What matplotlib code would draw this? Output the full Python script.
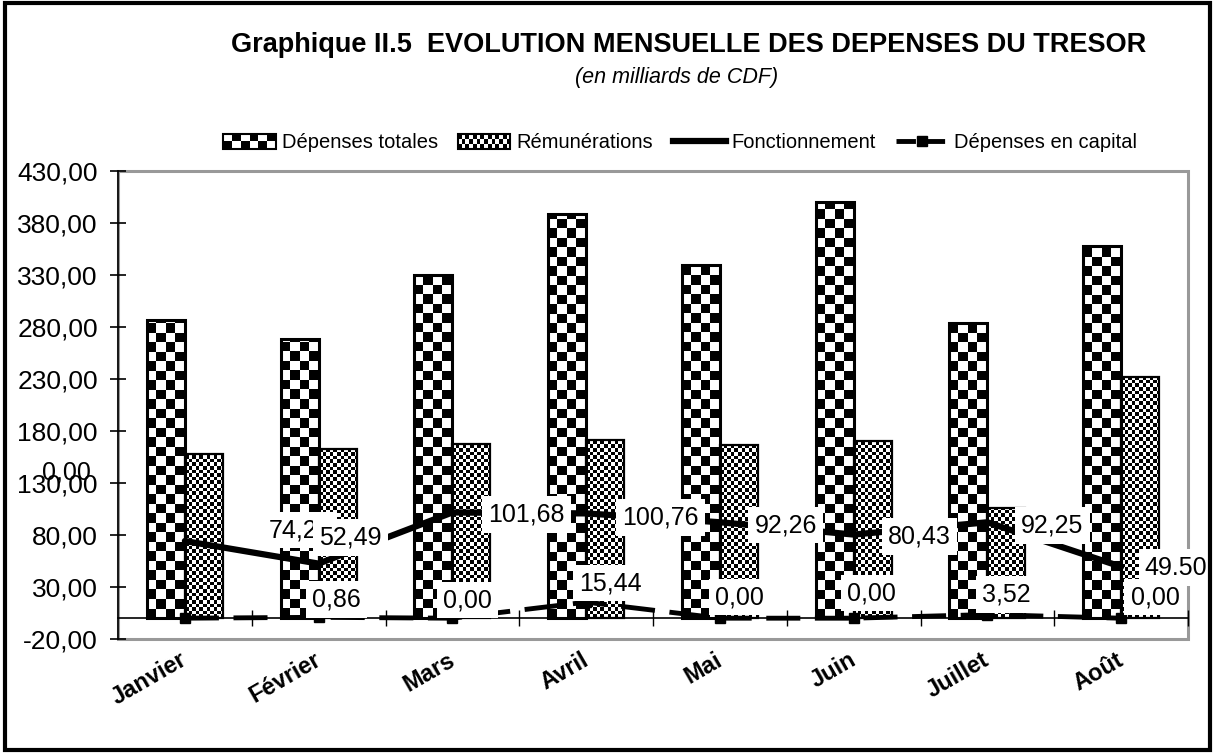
import numpy as np
import matplotlib
matplotlib.use('Agg')
import matplotlib.pyplot as plt
from matplotlib.patches import Rectangle
from matplotlib.lines import Line2D
from matplotlib.legend_handler import HandlerBase
from matplotlib.transforms import blended_transform_factory

plt.rcParams['font.family'] = ['Liberation Sans', 'DejaVu Sans']

mois = ['Janvier', 'Février', 'Mars', 'Avril', 'Mai', 'Juin', 'Juillet', 'Août']
totales = [287.2, 268.6, 330.1, 388.4, 339.7, 399.9, 283.4, 357.6]
remunerations = [157.8, 162.3, 167.4, 171.3, 167.0, 170.6, 106.4, 232.0]
fonctionnement = [74.21, 52.49, 101.68, 100.76, 92.26, 80.43, 92.25, 49.50]
capital = [0.00, 0.86, 0.00, 15.44, 0.00, 0.00, 3.52, 0.00]
fonct_txt = ['74,21', '52,49', '101,68', '100,76', '92,26', '80,43', '92,25', '49.50']
capital_txt = ['0,00', '0,86', '0,00', '15,44', '0,00', '0,00', '3,52', '0,00']
y_ticks = np.arange(-20, 431, 50)

# label offsets in pixels (moved by hand in the original)
fonct_off = [(115, 11), (32, 26), (74, -2), (74, -4), (66, -3), (66, -2), (65, -3), (55, -1)]
cap_off = [(-118, 146), (18, 18), (15, 18), (24, 19), (20, 21), (18, 25), (19, 20), (34, 21)]

W, H = 1215, 753
fig = plt.figure(figsize=(W / 100, H / 100), dpi=100)
ax_l, ax_r, ax_t, ax_b = 118, 1188, 171, 639
ax = fig.add_axes([ax_l / W, 1 - ax_b / H, (ax_r - ax_l) / W, (ax_b - ax_t) / H])
ax.set_xlim(-0.5, 7.5)
ax.set_ylim(-20, 430)
px_x = (ax_r - ax_l) / 8.0
px_y = (ax_b - ax_t) / 450.0

x = np.arange(len(mois))
bw = 0.284
b1 = ax.bar(x - bw, totales, bw, align='edge', fill=False, edgecolor='black', linewidth=2.2, zorder=3)
b2 = ax.bar(x, remunerations, bw, align='edge', fill=False, edgecolor='black', linewidth=1.6, zorder=3)


def checker(bars, sq):
    for b in bars:
        x0, y0, w, h = b.get_x(), b.get_y(), b.get_width(), b.get_height()
        nx = int(np.ceil(w * px_x / sq)) + 1
        ny = int(np.ceil(h * px_y / sq)) + 1
        arr = (np.add.outer(np.arange(ny), np.arange(nx)) % 2).astype(float)
        im = ax.imshow(arr, cmap='gray', vmin=0, vmax=1, interpolation='nearest',
                       origin='lower', aspect='auto', zorder=2,
                       extent=[x0, x0 + nx * sq / px_x, y0, y0 + ny * sq / px_y])
        im.set_clip_path(b)


checker(b1, 9.5)
checker(b2, 3.6)
ax.set_xlim(-0.5, 7.5)
ax.set_ylim(-20, 430)

ax.plot(x, fonctionnement, color='black', lw=4.5, solid_capstyle='round', zorder=4)
ax.plot(x, capital, color='black', lw=3.5, linestyle=(0, (7, 3)), marker='s',
        markersize=7, zorder=4)

bbox = dict(boxstyle='square,pad=0.25', fc='white', ec='none')
for i in range(len(mois)):
    ax.annotate(fonct_txt[i], (x[i], fonctionnement[i]), xytext=fonct_off[i],
                textcoords='offset pixels', ha='center', va='center', fontsize=18,
                bbox=bbox, zorder=5, annotation_clip=False)
for i in range(len(mois)):
    # the January label sits over the y tick labels, without a box
    ax.annotate(capital_txt[i], (x[i], capital[i]), xytext=cap_off[i],
                textcoords='offset pixels', ha='center', va='center', fontsize=18,
                bbox=None if i == 0 else bbox, zorder=5, annotation_clip=False)

# axes look
for s in ['top', 'right']:
    ax.spines[s].set_visible(False)
ax.spines['left'].set_linewidth(1.2)
ax.spines['bottom'].set_position(('data', 0))
ax.spines['bottom'].set_linewidth(1.2)
ax.add_patch(Rectangle((0, 0), 1, 1, transform=ax.transAxes, fill=False,
                       ec='#999999', lw=2.2, clip_on=False, zorder=0.5))
ax.set_yticks(y_ticks)
ax.set_yticklabels([f'{v:.2f}'.replace('.', ',') for v in y_ticks], fontsize=19)
ax.tick_params(axis='y', direction='inout', length=11, width=1.2, pad=9)
ax.set_xticks(np.arange(0.5, 8, 1))
ax.set_xticklabels([])
ax.tick_params(axis='x', direction='inout', length=11, width=1)

tr = blended_transform_factory(ax.transData, ax.transAxes)
for i, m in enumerate(mois):
    ax.text(x[i] - 0.04, -0.02, m, transform=tr, rotation=30, rotation_mode='anchor',
            ha='right', va='top', fontsize=17, fontweight='bold')


class CheckerHandler(HandlerBase):
    def __init__(self, ncols, nrows):
        super().__init__()
        self.ncols, self.nrows = ncols, nrows

    def create_artists(self, legend, orig_handle, xdescent, ydescent, width, height, fontsize, trans):
        x0, y0 = -xdescent, -ydescent
        arts = [Rectangle((x0, y0), width, height, fc='white', ec='none', transform=trans)]
        cw, rh = width / self.ncols, height / self.nrows
        for i in range(self.nrows):
            for j in range(self.ncols):
                if (i + j) % 2 == 0:
                    arts.append(Rectangle((x0 + j * cw, y0 + i * rh), cw, rh, fc='black',
                                          ec='none', transform=trans))
        arts.append(Rectangle((x0, y0), width, height, fill=False, ec='black', lw=1.5, transform=trans))
        return arts


h1 = Rectangle((0, 0), 1, 1, label='Dépenses totales')
h2 = Rectangle((0, 0), 1, 1, label='Rémunérations')
h3 = Line2D([], [], color='black', lw=4.5, label='Fonctionnement')
h4 = Line2D([], [], color='black', lw=3.5, linestyle=(0, (4, 2)), marker='s', markersize=7,
            label='Dépenses en capital')
fig.legend(handles=[h1, h2, h3, h4], loc='center', bbox_to_anchor=(0.56, 1 - 143 / H),
           ncol=4, frameon=False, fontsize=14.5, handlelength=2.6, handletextpad=0.3,
           columnspacing=1.0, handler_map={h1: CheckerHandler(6, 2), h2: CheckerHandler(14, 3)})

fig.text(689 / W, 1 - 45 / H, 'Graphique II.5  EVOLUTION MENSUELLE DES DEPENSES DU TRESOR',
         ha='center', va='center', fontsize=19.5, fontweight='bold')
fig.text(677 / W, 1 - 78 / H, '(en milliards de CDF)', ha='center', va='center',
         fontsize=15.5, style='italic')

fig.patches.append(Rectangle((0.004, 0.004), 0.992, 0.992, transform=fig.transFigure,
                             fill=False, ec='black', lw=3))

fig.savefig('out.png', dpi=100)
